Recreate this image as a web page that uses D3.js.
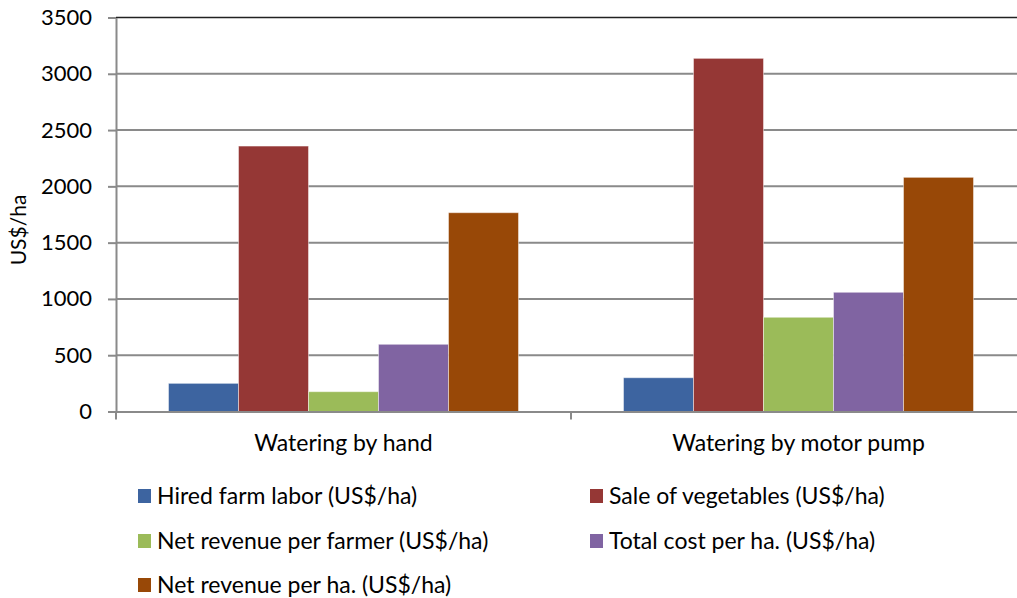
<!DOCTYPE html>
<html>
<head>
<meta charset="utf-8">
<script src="https://cdn.jsdelivr.net/npm/d3@7"></script>
<style>
  body { margin: 0; background: #fff; }
  svg { display: block; font-family: Lato, "Open Sans", sans-serif; }
</style>
</head>
<body>
<svg id="chart" width="1017" height="598"></svg>
<script>
// data
const categories = ["Watering by hand", "Watering by motor pump"];
const seriesNames = [
    "Hired farm labor (US$/ha)",
    "Sale of vegetables (US$/ha)",
    "Net revenue per farmer (US$/ha)",
    "Total cost per ha. (US$/ha)",
    "Net revenue per ha. (US$/ha)"
];
const handValues = [250, 2358, 176, 597, 1766];
const pumpValues = [300, 3137, 837, 1059, 2080];
const yTicks = [0, 500, 1000, 1500, 2000, 2500, 3000, 3500];
const colors = ["#3d64a0", "#953735", "#9bbb59", "#8064a2", "#984807"];

const valuesByCat = [handValues, pumpValues];

const svg = d3.select("#chart");

const plotLeft = 116, plotTop = 17.5, plotBottom = 411.5, plotRight = 1026;

const x0 = d3.scaleBand()
    .domain(categories)
    .range([plotLeft, plotRight])
    .paddingInner(0)
    .paddingOuter(0);

const x1 = d3.scaleBand()
    .domain(seriesNames)
    .range([0, x0.bandwidth()])
    .paddingInner(0)
    .paddingOuter(0.75);

const y = d3.scaleLinear()
    .domain([0, 3500])
    .range([plotBottom, plotTop]);

const color = d3.scaleOrdinal().domain(seriesNames).range(colors);

// gridlines
svg.append("g")
    .selectAll("line")
    .data(yTicks.filter(d => d > 0))
    .join("line")
    .attr("x1", plotLeft).attr("x2", 1017)
    .attr("y1", d => y(d)).attr("y2", d => y(d))
    .attr("stroke", d => d === 3500 ? "#222" : "#8a8a8a")
    .attr("stroke-width", d => d === 3500 ? 1.5 : 2);

// bars
svg.append("g")
    .selectAll("g")
    .data(categories)
    .join("g")
    .attr("transform", d => `translate(${x0(d)},0)`)
    .selectAll("rect")
    .data((d, i) => seriesNames.map((s, j) => ({ s, v: valuesByCat[i][j] })))
    .join("rect")
    .attr("x", d => x1(d.s))
    .attr("y", d => y(d.v))
    .attr("width", x1.bandwidth())
    .attr("height", d => y(0) - y(d.v))
    .attr("fill", d => color(d.s))
    .attr("stroke", "rgba(255,255,255,0.45)")
    .attr("stroke-width", 1);

// y axis
const yAxis = svg.append("g")
    .attr("transform", `translate(${plotLeft},0)`)
    .call(d3.axisLeft(y).tickValues(yTicks).tickFormat(d3.format("d"))
        .tickSize(8).tickPadding(16).tickSizeOuter(0));
yAxis.select(".domain").attr("stroke", "#8a8a8a").attr("stroke-width", 2);
yAxis.selectAll(".tick line").attr("stroke", "#8a8a8a").attr("stroke-width", 2);
yAxis.selectAll(".tick text")
    .attr("font-size", 22)
    .attr("fill", "#000")
    .attr("font-family", "Lato, sans-serif");

// x axis
const xAxis = svg.append("g")
    .attr("transform", `translate(0,${plotBottom})`)
    .call(d3.axisBottom(x0).tickSize(0).tickPadding(23).tickSizeOuter(0));
xAxis.select(".domain").attr("stroke", "#8a8a8a").attr("stroke-width", 2);
xAxis.selectAll(".tick text")
    .attr("font-size", 23)
    .attr("fill", "#000")
    .attr("font-family", "Lato, sans-serif");
// category separators
xAxis.append("g")
    .selectAll("line")
    .data([plotLeft, x0(categories[1])])
    .join("line")
    .attr("x1", d => d).attr("x2", d => d)
    .attr("y1", 0).attr("y2", 8)
    .attr("stroke", "#8a8a8a").attr("stroke-width", 2);

// y label
svg.append("text")
    .attr("transform", "translate(26,230) rotate(-90)")
    .attr("text-anchor", "middle")
    .attr("font-size", 21)
    .attr("fill", "#000")
    .text("US$/ha");

// legend
const legendPos = [[138, 496], [590, 496], [138, 541], [590, 541], [138, 585]];
const legend = svg.append("g")
    .selectAll("g")
    .data(seriesNames)
    .join("g")
    .attr("transform", (d, i) => `translate(${legendPos[i][0]},${legendPos[i][1]})`);
legend.append("rect")
    .attr("x", 0).attr("y", -7)
    .attr("width", 13).attr("height", 14)
    .attr("fill", d => color(d));
legend.append("text")
    .attr("x", 19)
    .attr("dy", "0.35em")
    .attr("font-size", 23)
    .attr("fill", "#000")
    .text(d => d);
</script>
</body>
</html>
